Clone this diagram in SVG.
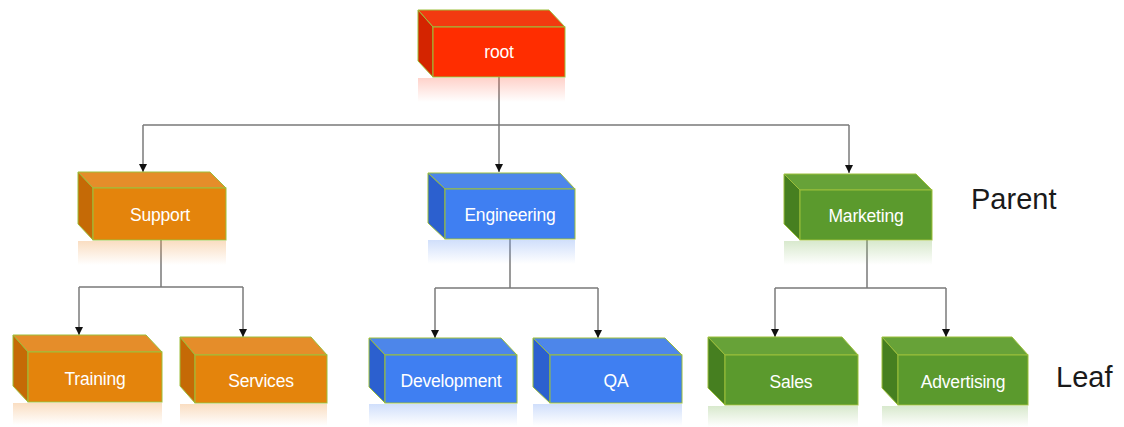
<svg xmlns="http://www.w3.org/2000/svg" width="1124" height="427" viewBox="0 0 1124 427">
<style>
.lbl{font-family:"Liberation Sans",Arial,sans-serif;font-size:17.5px;fill:#ffffff;text-anchor:middle;letter-spacing:-0.2px}
.side{font-family:"Liberation Sans",Arial,sans-serif;font-size:29px;fill:#1a1a1a}
.edge{fill:none;stroke:#7a7a7a;stroke-width:1.5}
.box path,.box rect{stroke:#9cbf3a;stroke-width:1}
.red .f{fill:#ff2d00}.red .l{fill:#d42400}.red .t{fill:#f23a10}.red .r{fill:url(#gRed)}
.org .f{fill:#e4840c}.org .l{fill:#c56a06}.org .t{fill:#e58d2a}.org .r{fill:url(#gOrg)}
.blu .f{fill:#3f7ff2}.blu .l{fill:#2c60cf}.blu .t{fill:#4d86ea}.blu .r{fill:url(#gBlu)}
.grn .f{fill:#5b9a2d}.grn .l{fill:#467f20}.grn .t{fill:#67a238}.grn .r{fill:url(#gGrn)}
.box .r{stroke:none}
</style>
<defs>
<marker id="arr" viewBox="0 0 10 10" refX="10" refY="5" markerWidth="8" markerHeight="8" markerUnits="userSpaceOnUse" orient="auto">
<path d="M0,0 L10,5 L0,10 z" fill="#111"/>
</marker>
<linearGradient id="gRed" x1="0" y1="0" x2="0" y2="1"><stop offset="0" stop-color="#ff6a50" stop-opacity="0.3"/><stop offset="1" stop-color="#ff6a50" stop-opacity="0"/></linearGradient>
<linearGradient id="gOrg" x1="0" y1="0" x2="0" y2="1"><stop offset="0" stop-color="#f0a050" stop-opacity="0.35"/><stop offset="1" stop-color="#f0a050" stop-opacity="0"/></linearGradient>
<linearGradient id="gBlu" x1="0" y1="0" x2="0" y2="1"><stop offset="0" stop-color="#7aa4f4" stop-opacity="0.35"/><stop offset="1" stop-color="#7aa4f4" stop-opacity="0"/></linearGradient>
<linearGradient id="gGrn" x1="0" y1="0" x2="0" y2="1"><stop offset="0" stop-color="#90c070" stop-opacity="0.35"/><stop offset="1" stop-color="#90c070" stop-opacity="0"/></linearGradient>
</defs>

<g id="connectors">
<path class="edge" d="M499,77 V125 M143,125 H849"/>
<path class="edge" d="M143,125 V172" marker-end="url(#arr)"/>
<path class="edge" d="M499,125 V172" marker-end="url(#arr)"/>
<path class="edge" d="M849,125 V173" marker-end="url(#arr)"/>
<path class="edge" d="M161,240 V287 M79,287 H243"/>
<path class="edge" d="M79,287 V335" marker-end="url(#arr)"/>
<path class="edge" d="M243,287 V337" marker-end="url(#arr)"/>
<path class="edge" d="M510,239 V288 M435,288 H598"/>
<path class="edge" d="M435,288 V338" marker-end="url(#arr)"/>
<path class="edge" d="M598,288 V338" marker-end="url(#arr)"/>
<path class="edge" d="M867,240 V288 M775,288 H946"/>
<path class="edge" d="M775,288 V337" marker-end="url(#arr)"/>
<path class="edge" d="M946,288 V337" marker-end="url(#arr)"/>
</g>

<g id="root" class="box red">
<rect class="r" x="418" y="78" width="147" height="24"/>
<path class="t" d="M418,10 H549 L565,27 H433 Z"/>
<path class="l" d="M418,10 L433,27 V77 L418,61 Z"/>
<rect class="f" x="433" y="27" width="132" height="50"/>
<text class="lbl" x="499" y="58">root</text>
</g>

<g id="support" class="box org">
<rect class="r" x="78" y="241" width="148" height="24"/>
<path class="t" d="M78,172 H210 L226,188 H93 Z"/>
<path class="l" d="M78,172 L93,188 V240 L78,224 Z"/>
<rect class="f" x="93" y="188" width="133" height="52"/>
<text class="lbl" x="160" y="221">Support</text>
</g>

<g id="engineering" class="box blu">
<rect class="r" x="428" y="240" width="147" height="24"/>
<path class="t" d="M428,173 H560 L575,189 H445 Z"/>
<path class="l" d="M428,173 L445,189 V239 L428,223 Z"/>
<rect class="f" x="445" y="189" width="130" height="50"/>
<text class="lbl" x="510" y="221">Engineering</text>
</g>

<g id="marketing" class="box grn">
<rect class="r" x="784" y="241" width="148" height="24"/>
<path class="t" d="M784,174 H916 L932,190 H800 Z"/>
<path class="l" d="M784,174 L800,190 V240 L784,224 Z"/>
<rect class="f" x="800" y="190" width="132" height="50"/>
<text class="lbl" x="866" y="222">Marketing</text>
</g>

<g id="training" class="box org">
<rect class="r" x="13" y="403" width="149" height="22"/>
<path class="t" d="M13,335 H146 L162,352 H28 Z"/>
<path class="l" d="M13,335 L28,352 V402 L13,386 Z"/>
<rect class="f" x="28" y="352" width="134" height="50"/>
<text class="lbl" x="95" y="385">Training</text>
</g>

<g id="services" class="box org">
<rect class="r" x="180" y="404" width="147" height="22"/>
<path class="t" d="M180,337 H311 L327,355 H195 Z"/>
<path class="l" d="M180,337 L195,355 V403 L180,386 Z"/>
<rect class="f" x="195" y="355" width="132" height="48"/>
<text class="lbl" x="261" y="387">Services</text>
</g>

<g id="development" class="box blu">
<rect class="r" x="369" y="404" width="148" height="22"/>
<path class="t" d="M369,338 H501 L517,355 H385 Z"/>
<path class="l" d="M369,338 L385,355 V403 L369,387 Z"/>
<rect class="f" x="385" y="355" width="132" height="48"/>
<text class="lbl" x="451" y="387">Development</text>
</g>

<g id="qa" class="box blu">
<rect class="r" x="533" y="404" width="149" height="22"/>
<path class="t" d="M533,338 H665 L682,355 H550 Z"/>
<path class="l" d="M533,338 L550,355 V403 L533,387 Z"/>
<rect class="f" x="550" y="355" width="132" height="48"/>
<text class="lbl" x="616" y="387">QA</text>
</g>

<g id="sales" class="box grn">
<rect class="r" x="708" y="406" width="150" height="21"/>
<path class="t" d="M708,337 H842 L858,355 H725 Z"/>
<path class="l" d="M708,337 L725,355 V405 L708,388 Z"/>
<rect class="f" x="725" y="355" width="133" height="50"/>
<text class="lbl" x="791" y="388">Sales</text>
</g>

<g id="advertising" class="box grn">
<rect class="r" x="882" y="406" width="146" height="21"/>
<path class="t" d="M882,337 H1012 L1028,355 H898 Z"/>
<path class="l" d="M882,337 L898,355 V405 L882,388 Z"/>
<rect class="f" x="898" y="355" width="130" height="50"/>
<text class="lbl" x="963" y="388">Advertising</text>
</g>

<text id="parent-label" class="side" x="971" y="209">Parent</text>
<text id="leaf-label" class="side" x="1056" y="387">Leaf</text>
</svg>
